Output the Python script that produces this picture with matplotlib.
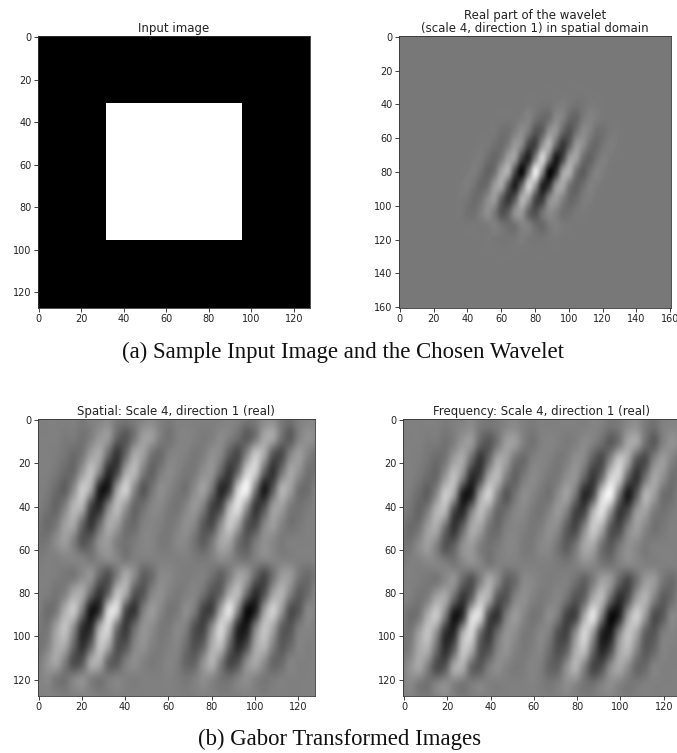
import matplotlib
matplotlib.use("Agg")
import matplotlib.pyplot as plt
import numpy as np

W, H = 677, 753

# input image, one cell = 32 pixels
input_cells = [
    [0, 0, 0, 0],
    [0, 1, 1, 0],
    [0, 1, 1, 0],
    [0, 0, 0, 0],
]

wavelet_rows = [
    [50] * 27,
    [50, 50, 50, 50, 50, 50, 50, 50, 50, 50, 50, 50, 51, 50, 49, 49, 51, 52, 50, 48, 49, 51, 51, 50, 50, 50, 50],
    [50, 50, 50, 50, 50, 50, 50, 50, 50, 50, 50, 52, 54, 48, 44, 46, 56, 54, 44, 42, 50, 54, 52, 50, 50, 50, 50],
    [50, 50, 50, 50, 50, 50, 50, 50, 47, 47, 53, 58, 50, 36, 40, 60, 61, 43, 35, 47, 57, 54, 47, 47, 50, 51, 50],
    [50, 50, 50, 50, 50, 51, 50, 47, 45, 52, 63, 55, 30, 29, 60, 73, 44, 24, 39, 62, 59, 47, 44, 49, 52, 51, 50],
    [50, 50, 50, 50, 51, 51, 46, 43, 51, 66, 63, 28, 17, 56, 86, 50, 12, 29, 64, 66, 47, 41, 48, 53, 51, 50, 50],
    [50, 50, 50, 51, 52, 47, 41, 48, 68, 70, 30, 6, 50, 96, 58, 6, 20, 65, 72, 48, 39, 47, 54, 52, 50, 50, 50],
    [50, 50, 51, 52, 48, 43, 47, 64, 68, 37, 14, 44, 85, 63, 17, 21, 60, 69, 50, 41, 46, 53, 52, 50, 50, 50, 50],
    [50, 50, 51, 49, 45, 48, 58, 63, 40, 24, 39, 72, 63, 31, 26, 55, 64, 54, 44, 45, 51, 52, 50, 50, 50, 50, 50],
    [50, 50, 50, 47, 47, 53, 59, 50, 35, 40, 60, 62, 42, 34, 47, 57, 54, 47, 47, 50, 51, 50, 50, 50, 50, 50, 50],
    [50, 50, 50, 50, 50, 50, 51, 53, 49, 46, 47, 54, 53, 46, 44, 50, 53, 51, 50, 50, 50, 50, 50, 50, 50, 50, 50],
    [50, 50, 50, 50, 50, 50, 51, 50, 49, 49, 50, 52, 50, 49, 49, 50, 51, 50, 50, 50, 50, 50, 50, 50, 50, 50, 50],
    [50] * 27,
]

# grey levels, x = 0..128 step 4, y = 0..128 step 8
gabor_rows = [
    [50, 50, 50, 50, 50, 48, 50, 52, 54, 48, 46, 48, 52, 54, 50, 48, 50, 50, 50, 50, 50, 50, 52, 50, 46, 48, 54, 56, 48, 44, 50, 52, 52],
    [50, 50, 50, 48, 48, 45, 50, 59, 59, 40, 34, 46, 61, 61, 50, 45, 50, 52, 50, 48, 50, 54, 50, 43, 36, 46, 64, 64, 45, 36, 50, 57, 54],
    [50, 50, 49, 46, 42, 47, 62, 65, 41, 22, 41, 65, 62, 46, 42, 50, 52, 50, 47, 50, 56, 52, 36, 30, 54, 77, 65, 35, 30, 51, 61, 52, 45],
    [50, 50, 47, 42, 42, 60, 74, 51, 18, 28, 64, 71, 50, 39, 48, 54, 51, 47, 48, 56, 57, 39, 23, 43, 80, 79, 40, 21, 44, 64, 57, 45, 45],
    [50, 48, 42, 38, 55, 78, 63, 14, 14, 61, 80, 54, 35, 45, 55, 52, 47, 45, 55, 62, 45, 17, 30, 80, 93, 48, 12, 35, 68, 62, 45, 43, 50],
    [49, 45, 40, 51, 70, 68, 28, 18, 50, 72, 59, 41, 44, 52, 53, 48, 46, 52, 59, 49, 27, 29, 68, 86, 58, 24, 31, 59, 62, 49, 45, 48, 50],
    [46, 42, 47, 62, 65, 41, 22, 41, 65, 62, 46, 42, 50, 52, 50, 47, 50, 56, 52, 36, 30, 54, 77, 65, 35, 30, 51, 61, 52, 45, 47, 50, 50],
    [45, 47, 55, 61, 50, 34, 39, 56, 60, 50, 45, 48, 52, 52, 48, 48, 53, 53, 45, 37, 47, 64, 64, 45, 36, 47, 56, 53, 48, 50, 50, 50, 50],
    [48, 50, 50, 52, 52, 50, 47, 52, 55, 52, 47, 50, 50, 50, 50, 50, 50, 50, 48, 47, 50, 55, 53, 47, 45, 50, 53, 52, 50, 50, 50, 50, 50],
    [50, 50, 49, 47, 47, 54, 57, 40, 32, 50, 66, 54, 38, 42, 53, 53, 50, 49, 50, 50, 44, 38, 49, 63, 59, 40, 29, 44, 60, 60, 47, 42, 47],
    [50, 49, 46, 51, 65, 65, 41, 22, 40, 73, 65, 35, 34, 51, 56, 51, 48, 50, 52, 44, 33, 40, 66, 71, 42, 19, 32, 61, 69, 52, 37, 42, 52],
    [49, 43, 48, 68, 77, 48, 10, 22, 80, 82, 32, 22, 48, 60, 53, 46, 48, 55, 47, 27, 28, 65, 87, 50, 7, 15, 60, 80, 60, 32, 35, 52, 52],
    [47, 47, 63, 75, 55, 20, 19, 66, 82, 45, 24, 42, 57, 55, 48, 48, 53, 49, 32, 28, 56, 82, 60, 17, 12, 50, 75, 65, 39, 34, 48, 52, 50],
    [45, 51, 66, 66, 41, 20, 39, 75, 66, 34, 33, 51, 57, 51, 48, 50, 52, 43, 32, 40, 67, 73, 41, 17, 30, 63, 71, 52, 36, 41, 51, 50, 50],
    [49, 58, 64, 49, 31, 36, 65, 66, 41, 36, 49, 55, 51, 48, 49, 52, 49, 40, 40, 57, 69, 50, 29, 33, 55, 65, 55, 41, 42, 51, 50, 50, 50],
    [51, 53, 47, 45, 52, 56, 50, 46, 49, 52, 50, 49, 50, 50, 50, 51, 49, 47, 50, 55, 52, 46, 45, 51, 55, 51, 47, 48, 50, 50, 50, 50, 50],
    [50, 51, 50, 49, 50, 51, 51, 49, 49, 50, 50, 50, 50, 50, 50, 50, 50, 49, 50, 51, 50, 49, 49, 50, 51, 50, 49, 50, 50, 50, 50, 50, 50],
]

titles = [
    "Input image",
    "Real part of the wavelet\n(scale 4, direction 1) in spatial domain",
    "Spatial: Scale 4, direction 1 (real)",
    "Frequency: Scale 4, direction 1 (real)",
]
captions = [
    "(a) Sample Input Image and the Chosen Wavelet",
    "(b) Gabor Transformed Images",
]
ticks_128 = [0, 20, 40, 60, 80, 100, 120]
ticks_160 = [0, 20, 40, 60, 80, 100, 120, 140, 160]


def make_axes(left, top, right, bottom):
    ax = fig.add_axes([left / W, 1 - bottom / H, (right - left) / W, (bottom - top) / H])
    ax.tick_params(labelsize=7, length=2.6, width=0.6, pad=2, colors="#222222")
    for s in ax.spines.values():
        s.set_linewidth(0.6)
        s.set_color("#333333")
    return ax


fig = plt.figure(figsize=(W / 100, H / 100), dpi=100)

ax1 = make_axes(37.5, 36, 310, 308)
ax1.imshow(input_cells, cmap="gray", vmin=0, vmax=1, interpolation="nearest", extent=(-0.5, 127.5, 127.5, -0.5))
ax1.set_title(titles[0], fontsize=8.5, pad=3, color="#222222")

ax2 = make_axes(398, 36, 672, 308)
ax2.set_facecolor(plt.cm.gray(50 / 106))
ax2.imshow(wavelet_rows, cmap="gray", vmin=0, vmax=106, interpolation="catrom", extent=(26, 134, 132, 28))
ax2.set_xlim(-0.5, 160.5)
ax2.set_ylim(160.5, -0.5)
ax2.set_xticks(ticks_160)
ax2.set_yticks(ticks_160)
ax2.set_title(titles[1], fontsize=8.5, pad=3, linespacing=1.0, color="#222222")

ax3 = make_axes(37.5, 419, 314.5, 696)
ax3.imshow(gabor_rows, cmap="gray", vmin=0, vmax=100, interpolation="catrom", extent=(-2, 130, 132, -4))
ax3.set_title(titles[2], fontsize=8.5, pad=3, color="#222222")

ax4 = make_axes(403, 419, 680, 696)
ax4.imshow(gabor_rows, cmap="gray", vmin=0, vmax=100, interpolation="catrom", extent=(-3, 129, 134.5, -1.5))
ax4.set_title(titles[3], fontsize=8.5, pad=3, color="#222222")

for ax in (ax1, ax3, ax4):
    ax.set_xlim(-0.5, 127.5)
    ax.set_ylim(127.5, -0.5)
    ax.set_xticks(ticks_128)
    ax.set_yticks(ticks_128)

fig.text(343 / W, 1 - 352 / H, captions[0], family="Liberation Serif", fontsize=16.4, ha="center", va="center", color="#111111")
fig.text(340 / W, 1 - 739 / H, captions[1], family="Liberation Serif", fontsize=16.4, ha="center", va="center", color="#111111")

fig.savefig("out.png", dpi=100)
